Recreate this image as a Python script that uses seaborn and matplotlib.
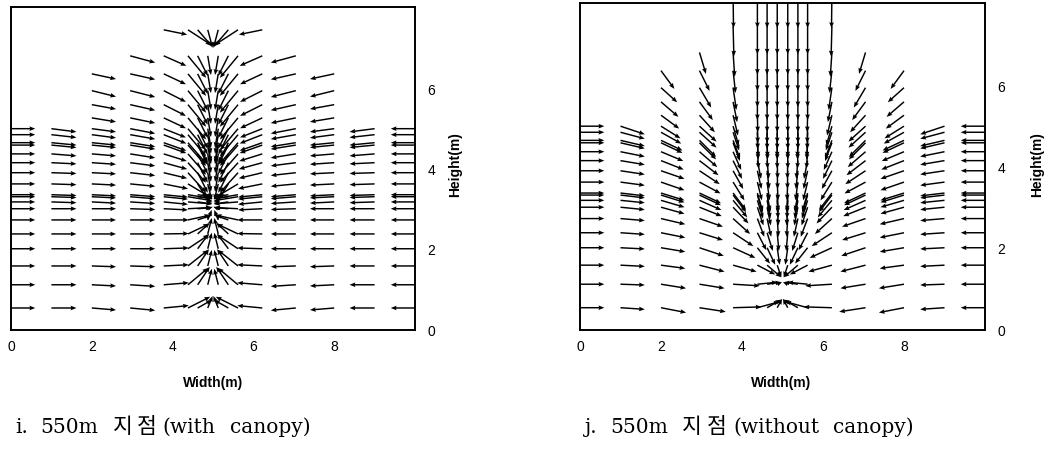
import numpy as np
import pandas as pd
import matplotlib
matplotlib.use("Agg")
import matplotlib.pyplot as plt
import seaborn as sns

N = np.nan

# Grid rows (heights, m) shared by both sections
heights = [0.55, 1.13, 1.6, 2.03, 2.4, 2.75, 3.03, 3.2, 3.33, 3.38, 3.65, 3.93,
           4.18, 4.4, 4.62, 4.68, 4.88, 5.03, 5.3, 5.63, 5.98, 6.4, 6.85, 7.5, 8.3]

# Grid columns of the left half (m); the right half mirrors about the centre line
half_columns = [0.0, 1.0, 2.0, 2.95, 3.78, 4.38, 4.62, 4.87]
domain_width = 10.0

# ---- velocity vectors, with canopy (one list per column, bottom -> top) ----
canopy_u = [
    [0.6] * 18 + [N] * 7,
    [0.62] * 18 + [N] * 7,
    [0.6] * 22 + [N] * 3,
    [0.62] * 23 + [N] * 2,
    [0.62, 0.62, 0.62, 0.62, 0.62, 0.62, 0.6, 0.6, 0.6, 0.6, 0.6, 0.58, 0.58,
     0.57, 0.56, 0.56, 0.56, 0.55, 0.55, 0.55, 0.55, 0.55, 0.56, 0.58, N],
    [0.55, 0.5, 0.5, 0.52, 0.52, 0.55, 0.58, 0.6, 0.6, 0.6, 0.5, 0.45, 0.45,
     0.45, 0.45, 0.45, 0.45, 0.45, 0.45, 0.45, 0.45, 0.45, 0.45, 0.58, N],
    [0.35, 0.3, 0.28, 0.28, 0.3, 0.35, 0.36, 0.36, 0.36, 0.36, 0.25, 0.25, 0.25,
     0.25, 0.25, 0.25, 0.25, 0.25, 0.25, 0.25, 0.25, 0.25, 0.25, 0.36, N],
    [0.12, 0.1, 0.1, 0.1, 0.1, 0.1, 0.12, 0.12, 0.12, 0.12, 0.1, 0.08, 0.08,
     0.08, 0.08, 0.08, 0.08, 0.08, 0.08, 0.08, 0.08, 0.08, 0.08, 0.12, N],
]
canopy_v = [
    [0.0] * 18 + [N] * 7,
    [0, 0, 0, 0, 0, 0, 0, -0.02, -0.02, -0.02, -0.02, -0.02, -0.03, -0.05,
     -0.06, -0.06, -0.07, -0.08] + [N] * 7,
    [-0.05, -0.03, -0.02, 0, 0, 0, 0, -0.03, -0.03, -0.03, -0.03, -0.03, -0.04,
     -0.05, -0.06, -0.06, -0.08, -0.08, -0.1, -0.11, -0.15, -0.13, N, N, N],
    [-0.06, -0.04, -0.02, 0, 0, 0, -0.02, -0.04, -0.05, -0.05, -0.06, -0.07,
     -0.08, -0.1, -0.1, -0.1, -0.11, -0.12, -0.13, -0.14, -0.16, -0.14, -0.17,
     N, N],
    [0.06, 0.05, 0.03, 0.02, 0.01, 0, -0.03, -0.06, -0.06, -0.06, -0.12, -0.14,
     -0.16, -0.18, -0.2, -0.2, -0.22, -0.22, -0.26, -0.28, -0.28, -0.26, -0.25,
     -0.12, N],
    [0.28, 0.42, 0.4, 0.35, 0.25, 0.12, 0.03, -0.05, -0.1, -0.1, -0.3, -0.5,
     -0.5, -0.52, -0.52, -0.52, -0.54, -0.54, -0.54, -0.55, -0.55, -0.55, -0.55,
     -0.38, N],
    [0.2, 0.45, 0.42, 0.38, 0.28, 0.12, 0.03, -0.05, -0.05, -0.05, -0.4, -0.5,
     -0.5, -0.5, -0.5, -0.5, -0.5, -0.5, -0.5, -0.5, -0.5, -0.5, -0.5, -0.42, N],
    [0.3, 0.4, 0.4, 0.4, 0.4, 0.25, 0.05, 0.0, -0.05, -0.05, -0.4, -0.48,
     -0.48, -0.48, -0.48, -0.48, -0.48, -0.48, -0.48, -0.48, -0.48, -0.48,
     -0.48, -0.45, N],
]

# ---- velocity vectors, without canopy ----
open_u = [
    [0.6] * 18 + [N] * 7,
    [0.6] * 18 + [N] * 7,
    [0.62, 0.62, 0.6, 0.6, 0.6, 0.6, 0.58, 0.58, 0.58, 0.58, 0.58, 0.58, 0.56,
     0.55, 0.53, 0.53, 0.5, 0.48, 0.45, 0.43, 0.4, 0.33, N, N, N],
    [0.65, 0.62, 0.62, 0.6, 0.58, 0.58, 0.55, 0.54, 0.53, 0.53, 0.52, 0.5,
     0.47, 0.44, 0.41, 0.41, 0.42, 0.42, 0.38, 0.33, 0.29, 0.25, 0.16, N, N],
    [0.7, 0.66, 0.58, 0.55, 0.5, 0.42, 0.38, 0.35, 0.32, 0.32, 0.28, 0.25,
     0.22, 0.2, 0.17, 0.17, 0.15, 0.14, 0.12, 0.1, 0.08, 0.06, 0.04, 0.02, 0.01],
    [0.55, 0.5, 0.44, 0.31, 0.22, 0.17, 0.15, 0.14, 0.13, 0.13, 0.11, 0.1,
     0.09, 0.03, 0.02, 0.02, 0.01, 0.01, 0.01, 0.0, 0.0, 0.0, 0.0, 0.0, 0.0],
    [0.35, 0.35, 0.35, 0.2, 0.14, 0.1, 0.09, 0.08, 0.07, 0.07, 0.06, 0.05,
     0.04, 0.01, 0.01, 0.01, 0.0, 0.0, 0.0, 0.0, 0.0, 0.0, 0.0, 0.0, 0.0],
    [0.12, 0.12, 0.1, 0.06, 0.04, 0.03, 0.03, 0.02, 0.02, 0.02, 0.02, 0.01,
     0.01, 0.0, 0.0, 0.0, 0.0, 0.0, 0.0, 0.0, 0.0, 0.0, 0.0, 0.0, 0.0],
]
open_v = [
    [0.0] * 18 + [N] * 7,
    [-0.04, -0.02, -0.03, -0.03, -0.04, -0.05, -0.06, -0.06, -0.07, -0.07,
     -0.08, -0.09, -0.1, -0.12, -0.14, -0.14, -0.16, -0.2] + [N] * 7,
    [-0.12, -0.1, -0.08, -0.1, -0.12, -0.14, -0.16, -0.17, -0.18, -0.18, -0.2,
     -0.2, -0.22, -0.23, -0.25, -0.25, -0.28, -0.3, -0.33, -0.37, -0.36, -0.45,
     N, N, N],
    [-0.1, -0.1, -0.16, -0.2, -0.18, -0.2, -0.22, -0.24, -0.25, -0.25, -0.28,
     -0.33, -0.36, -0.38, -0.41, -0.41, -0.38, -0.38, -0.42, -0.45, -0.49,
     -0.5, -0.53, N, N],
    [0.02, -0.04, -0.16, -0.25, -0.33, -0.38, -0.4, -0.42, -0.42, -0.42, -0.45,
     -0.45, -0.45, -0.45, -0.45, -0.45, -0.45, -0.48, -0.5, -0.5, -0.55, -0.55,
     -0.6, -0.75, -0.85],
    [0.15, 0.05, -0.23, -0.39, -0.43, -0.45, -0.45, -0.45, -0.45, -0.45, -0.45,
     -0.45, -0.45, -0.42, -0.42, -0.42, -0.42, -0.42, -0.42, -0.45, -0.48,
     -0.5, -0.55, -0.7, -0.85],
    [0.2, 0.05, -0.3, -0.42, -0.45, -0.45, -0.45, -0.45, -0.45, -0.45, -0.45,
     -0.45, -0.45, -0.42, -0.42, -0.42, -0.42, -0.42, -0.42, -0.45, -0.48,
     -0.5, -0.55, -0.7, -0.85],
    [0.22, 0.05, -0.3, -0.42, -0.45, -0.45, -0.45, -0.45, -0.45, -0.45, -0.45,
     -0.45, -0.45, -0.42, -0.42, -0.42, -0.42, -0.42, -0.42, -0.45, -0.48,
     -0.5, -0.55, -0.7, -0.85],
]

x_ticks = [0, 2, 4, 6, 8]
y_ticks = [0, 2, 4, 6]
# caption words, drawn with the wide spacing of the printed captions
caption_words = [
    ["i.", "550m", "지", "점", "(with", "canopy)"],
    ["j.", "550m", "지", "점", "(without", "canopy)"],
]
caption_offsets = [
    [0, 25, 98, 122, 147, 215],
    [0, 25, 97, 122, 148, 248],
]


def vector_table(u_cols, v_cols):
    """Long-form table of arrows; the right half mirrors the left half."""
    rows = []
    for x, us, vs in zip(half_columns, u_cols, v_cols):
        for y, u, v in zip(heights, us, vs):
            if np.isnan(u) or np.isnan(v):
                continue
            rows.append((x, y, u, v))
            rows.append((domain_width - x, y, -u, v))
    return pd.DataFrame(rows, columns=["x", "y", "u", "v"])


sns.set_theme(style="white")
plt.rcParams["font.family"] = ["Liberation Sans", "DejaVu Sans"]
plt.rcParams["text.color"] = "black"
plt.rcParams["axes.labelcolor"] = "black"

fig = plt.figure(figsize=(10.51, 4.5), dpi=100)
W, H = 1051, 450
ax_boxes = [
    (11, 7, 415, 330),
    (580, 3, 985, 330),
]
tables = [vector_table(canopy_u, canopy_v), vector_table(open_u, open_v)]
label_x = [455, 1037]
width_label_x = [213, 781]
caption_x = [15, 585]

for k, ((x0, y0, x1, y1), df) in enumerate(zip(ax_boxes, tables)):
    ax = fig.add_axes([x0 / W, 1 - y1 / H, (x1 - x0) / W, (y1 - y0) / H])
    ax.quiver(df["x"], df["y"], df["u"], df["v"],
              angles="xy", scale_units="xy", scale=1, pivot="tail",
              color="black", width=0.0036, headwidth=3.2, headlength=4.0,
              headaxislength=3.6, minlength=0.5)
    ax.set_xlim(0, domain_width)
    ax.set_ylim(0, 8.07)
    ax.set_xticks(x_ticks)
    ax.set_yticks(y_ticks)
    ax.yaxis.tick_right()
    ax.tick_params(axis="both", length=0, labelsize=10, colors="black")
    ax.tick_params(axis="x", pad=7)
    ax.tick_params(axis="y", pad=9)
    for lab in ax.get_xticklabels() + ax.get_yticklabels():
        lab.set_family(["Liberation Sans Narrow", "Liberation Sans"])
    for sp in ax.spines.values():
        sp.set_visible(True)
        sp.set_color("black")
        sp.set_linewidth(1.4)
    ax.grid(False)

    fig.text(label_x[k] / W, 1 - 165 / H, "Height(m)", rotation=90,
             ha="center", va="center", fontsize=10, fontweight="bold",
             color="black")
    fig.text(width_label_x[k] / W, 1 - 383 / H, "Width(m)",
             ha="center", va="center", fontsize=10, fontweight="bold",
             color="black")
    for word, off in zip(caption_words[k], caption_offsets[k]):
        is_hangul = word in ("지", "점")
        fig.text((caption_x[k] + off) / W, 1 - 433 / H, word,
                 ha="left", va="baseline", color="black",
                 fontsize=15.5 if is_hangul else 14.5,
                 family=["Noto Sans CJK KR"] if is_hangul
                 else ["DejaVu Serif", "Noto Sans CJK KR"])

fig.savefig("out.png", dpi=100, facecolor="white")
